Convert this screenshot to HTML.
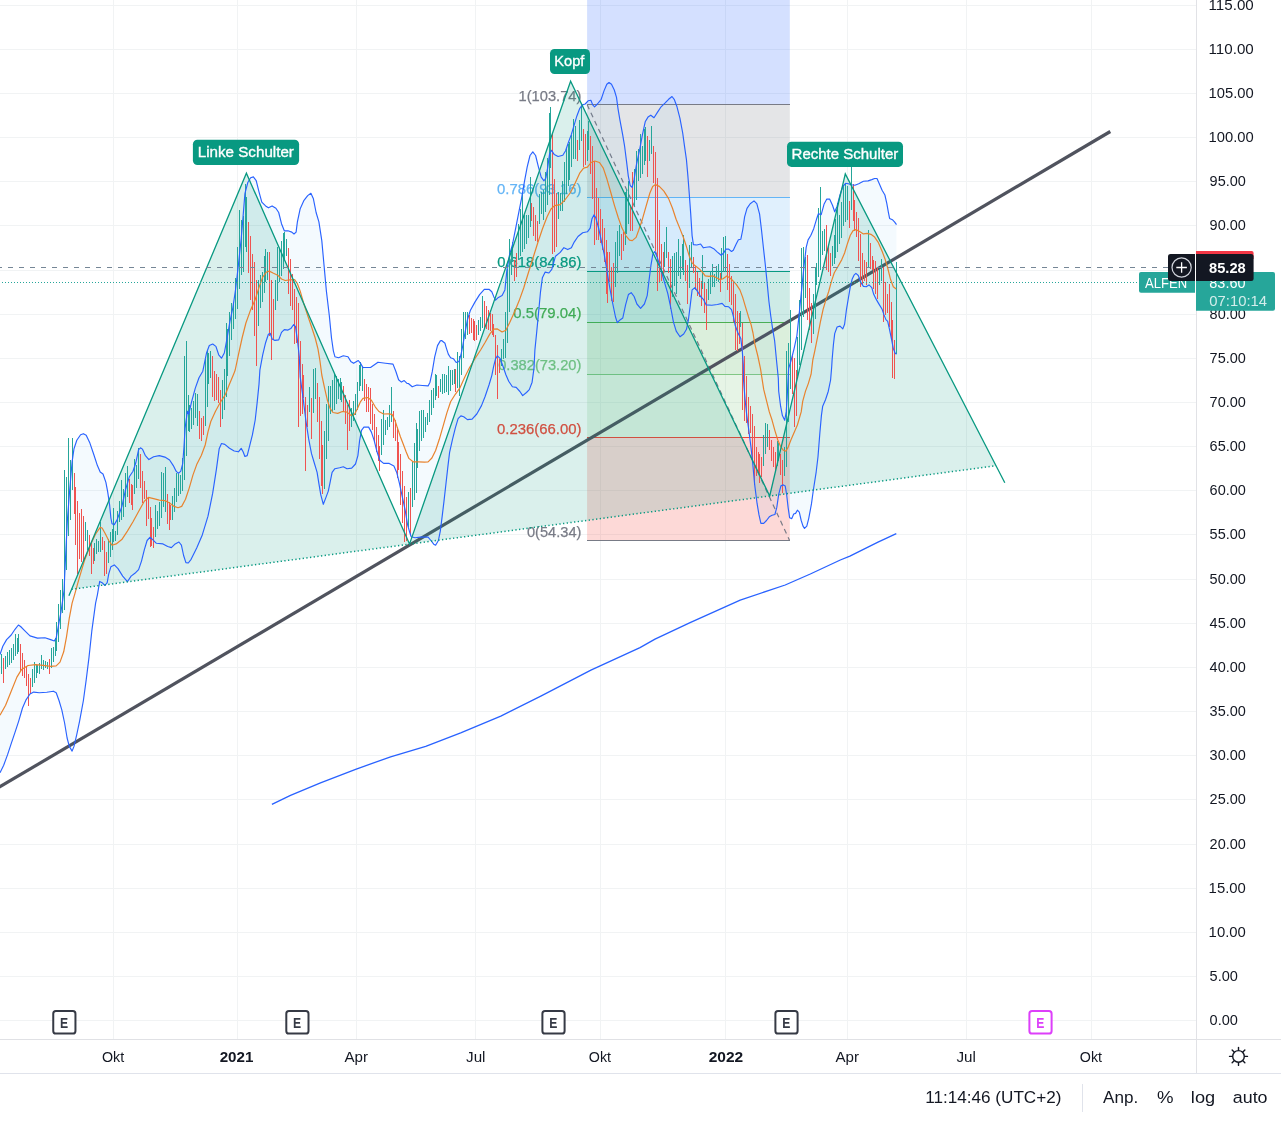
<!DOCTYPE html>
<html lang="de"><head><meta charset="utf-8"><title>ALFEN Chart</title>
<style>html,body{margin:0;padding:0;background:#fff;overflow:hidden}body{width:1281px;height:1122px;position:relative;font-family:"Liberation Sans",sans-serif}</style></head>
<body>
<svg width="1281" height="1122" viewBox="0 0 1281 1122" style="position:absolute;left:0;top:0;font-family:'Liberation Sans',sans-serif">
<rect width="1281" height="1122" fill="#fff"/>
<defs><clipPath id="pane"><rect x="0" y="0" width="1196" height="1039"/></clipPath></defs>
<g shape-rendering="crispEdges" fill="#f1f3f4">
<rect x="0" y="1020" width="1196" height="1"/>
<rect x="0" y="976" width="1196" height="1"/>
<rect x="0" y="932" width="1196" height="1"/>
<rect x="0" y="888" width="1196" height="1"/>
<rect x="0" y="844" width="1196" height="1"/>
<rect x="0" y="799" width="1196" height="1"/>
<rect x="0" y="755" width="1196" height="1"/>
<rect x="0" y="711" width="1196" height="1"/>
<rect x="0" y="667" width="1196" height="1"/>
<rect x="0" y="623" width="1196" height="1"/>
<rect x="0" y="579" width="1196" height="1"/>
<rect x="0" y="534" width="1196" height="1"/>
<rect x="0" y="490" width="1196" height="1"/>
<rect x="0" y="446" width="1196" height="1"/>
<rect x="0" y="402" width="1196" height="1"/>
<rect x="0" y="358" width="1196" height="1"/>
<rect x="0" y="314" width="1196" height="1"/>
<rect x="0" y="270" width="1196" height="1"/>
<rect x="0" y="225" width="1196" height="1"/>
<rect x="0" y="181" width="1196" height="1"/>
<rect x="0" y="137" width="1196" height="1"/>
<rect x="0" y="93" width="1196" height="1"/>
<rect x="0" y="49" width="1196" height="1"/>
<rect x="0" y="5" width="1196" height="1"/>
<rect x="113" y="0" width="1" height="1039"/>
<rect x="237" y="0" width="1" height="1039"/>
<rect x="356" y="0" width="1" height="1039"/>
<rect x="475" y="0" width="1" height="1039"/>
<rect x="600" y="0" width="1" height="1039"/>
<rect x="725" y="0" width="1" height="1039"/>
<rect x="847" y="0" width="1" height="1039"/>
<rect x="966" y="0" width="1" height="1039"/>
<rect x="1091" y="0" width="1" height="1039"/>
</g>
<g clip-path="url(#pane)">
<rect x="587.1" y="0" width="202.7" height="104.6" fill="#2962ff" fill-opacity="0.2"/>
<rect x="587.1" y="104.6" width="202.7" height="92.6" fill="#787b86" fill-opacity="0.2"/>
<rect x="587.1" y="197.2" width="202.7" height="74.2" fill="#64b5f6" fill-opacity="0.2"/>
<rect x="587.1" y="271.4" width="202.7" height="50.9" fill="#089981" fill-opacity="0.2"/>
<rect x="587.1" y="322.3" width="202.7" height="51.9" fill="#4caf50" fill-opacity="0.2"/>
<rect x="587.1" y="374.2" width="202.7" height="63.1" fill="#81c784" fill-opacity="0.2"/>
<rect x="587.1" y="437.3" width="202.7" height="103.1" fill="#f44336" fill-opacity="0.2"/>
<rect x="587.1" y="104" width="202.7" height="1" fill="#787b86" shape-rendering="crispEdges"/>
<rect x="587.1" y="197" width="202.7" height="1" fill="#64b5f6" shape-rendering="crispEdges"/>
<rect x="587.1" y="271" width="202.7" height="1" fill="#089981" shape-rendering="crispEdges"/>
<rect x="587.1" y="322" width="202.7" height="1" fill="#4caf50" shape-rendering="crispEdges"/>
<rect x="587.1" y="374" width="202.7" height="1" fill="#81c784" shape-rendering="crispEdges"/>
<rect x="587.1" y="437" width="202.7" height="1" fill="#f44336" shape-rendering="crispEdges"/>
<rect x="587.1" y="540" width="202.7" height="1" fill="#787b86" shape-rendering="crispEdges"/>
<line x1="587.1" y1="104.6" x2="789.6" y2="540.4" stroke="#787b86" stroke-width="1.2" stroke-dasharray="5 4"/>
<text x="518.52" y="100.6" font-size="15" fill="#787b86" textLength="62.87" lengthAdjust="spacingAndGlyphs" stroke="#787b86" stroke-width="0.25">1(103.74)</text>
<text x="497.00" y="193.5" font-size="15" fill="#64b5f6" textLength="84.40" lengthAdjust="spacingAndGlyphs" stroke="#64b5f6" stroke-width="0.25">0.786(93.16)</text>
<text x="497.20" y="267" font-size="15" fill="#089981" textLength="84.20" lengthAdjust="spacingAndGlyphs" stroke="#089981" stroke-width="0.25">0.618(84.86)</text>
<text x="513.30" y="318.2" font-size="15" fill="#4caf50" textLength="68.10" lengthAdjust="spacingAndGlyphs" stroke="#4caf50" stroke-width="0.25">0.5(79.04)</text>
<text x="498.20" y="370.2" font-size="15" fill="#81c784" textLength="83.20" lengthAdjust="spacingAndGlyphs" stroke="#81c784" stroke-width="0.25">0.382(73.20)</text>
<text x="497.00" y="433.5" font-size="15" fill="#f44336" textLength="84.40" lengthAdjust="spacingAndGlyphs" stroke="#f44336" stroke-width="0.25">0.236(66.00)</text>
<text x="527.00" y="536.6" font-size="15" fill="#787b86" textLength="54.40" lengthAdjust="spacingAndGlyphs" stroke="#787b86" stroke-width="0.25">0(54.34)</text>
<line x1="-2" y1="787.9" x2="1110.3" y2="131.5" stroke="#50535e" stroke-width="3.2"/>
<path d="M0.0,654.6 L2.8,646.2 L6.6,639.6 L11.2,635.0 L15.0,629.3 L18.4,625.0 L20.6,626.5 L24.4,630.3 L30.0,635.9 L37.5,638.1 L45.0,637.8 L50.6,639.6 L54.3,641.0 L56.2,637.8 L58.1,627.5 L60.9,612.5 L62.8,599.4 L64.1,590.0 L64.6,578.0 L65.9,549.9 L67.4,519.9 L69.7,489.9 L72.1,461.8 L74.0,448.7 L76.8,440.3 L80.6,434.7 L83.4,433.7 L86.2,435.2 L89.9,443.1 L93.7,454.3 L97.4,465.6 L100.2,472.1 L103.0,474.0 L105.9,482.4 L107.7,491.8 L109.6,504.9 L110.9,518.0 L112.0,523.7 L114.3,524.6 L117.1,519.9 L121.8,506.8 L125.5,489.9 L129.3,476.8 L133.0,471.2 L135.8,462.8 L138.6,449.6 L140.5,447.8 L142.4,449.1 L145.2,455.3 L148.9,459.6 L153.6,456.8 L159.3,455.6 L164.9,457.1 L169.6,460.0 L173.3,465.6 L176.1,471.2 L178.4,473.4 L180.8,471.2 L182.7,463.7 L184.0,446.8 L185.1,428.1 L187.4,411.2 L188.7,414.3 L191.5,402.2 L195.3,388.1 L199.0,377.8 L202.8,371.2 L206.5,353.0 L209.3,345.5 L212.7,344.0 L215.9,346.4 L218.7,354.8 L221.5,358.2 L224.3,353.0 L227.1,338.0 L230.0,321.1 L232.8,308.0 L235.6,289.3 L238.4,264.9 L241.2,238.7 L243.1,216.2 L244.9,193.7 L247.8,182.5 L250.6,177.8 L253.4,176.9 L256.2,180.6 L259.0,191.9 L261.8,202.2 L265.6,205.9 L268.4,207.8 L272.1,205.9 L275.9,208.3 L278.7,212.5 L281.5,223.7 L284.3,230.8 L288.0,230.8 L291.8,232.1 L294.0,234.0 L296.1,232.1 L297.4,221.8 L300.2,208.7 L304.0,200.3 L307.7,195.6 L310.9,193.3 L313.3,198.4 L316.1,212.5 L318.9,221.8 L321.8,240.6 L324.0,264.9 L326.4,291.1 L329.3,315.5 L331.5,338.0 L333.4,351.1 L334.9,356.7 L338.6,357.7 L343.3,355.8 L348.0,356.7 L350.8,361.4 L353.6,363.3 L358.3,360.5 L361.1,364.2 L363.0,367.6 L363.9,367.5 L370.5,367.5 L378.0,362.2 L385.5,363.2 L393.0,364.1 L395.8,371.2 L398.6,379.7 L401.4,382.1 L404.2,380.6 L407.0,383.4 L408.4,383.5 L412.2,386.8 L416.9,385.0 L422.5,385.5 L428.1,385.9 L430.0,382.2 L432.2,371.9 L434.7,356.9 L437.5,345.6 L440.3,340.9 L441.6,340.5 L445.0,343.3 L445.9,346.6 L448.3,354.1 L450.6,357.8 L453.4,358.7 L456.2,362.5 L459.0,361.5 L460.9,355.0 L462.8,345.6 L464.6,334.8 L467.4,319.9 L470.3,310.5 L474.9,302.1 L479.6,294.6 L484.3,289.3 L489.0,289.3 L491.8,291.8 L493.7,296.4 L495.6,300.2 L498.4,297.4 L502.1,295.5 L504.9,289.9 L506.8,271.1 L509.6,254.3 L512.4,244.9 L521.5,198.6 L524.4,181.8 L527.2,166.8 L530.0,155.5 L532.8,151.8 L535.6,155.5 L538.4,166.8 L541.2,177.1 L544.0,180.8 L545.9,178.0 L547.8,166.8 L549.6,153.7 L551.5,150.3 L554.3,154.6 L558.1,156.5 L562.8,155.2 L565.6,150.8 L568.4,142.4 L571.2,134.9 L574.0,125.6 L576.8,116.2 L579.6,108.7 L582.4,104.9 L585.2,104.0 L588.1,100.8 L590.9,100.3 L592.7,104.9 L594.6,106.8 L597.4,104.0 L601.2,99.3 L604.0,90.9 L606.8,84.3 L609.0,82.5 L611.5,84.3 L614.3,90.0 L616.5,97.4 L618.0,108.7 L619.9,119.9 L622.7,134.9 L624.6,146.2 L626.5,161.1 L628.3,176.1 L630.2,185.5 L632.1,187.4 L634.0,179.9 L636.4,164.9 L639.6,149.9 L642.4,134.9 L645.2,121.8 L648.0,117.1 L650.8,115.2 L654.0,117.7 L657.4,112.4 L661.1,106.8 L664.9,103.1 L668.6,99.3 L672.0,96.5 L674.2,99.3 L677.0,106.8 L679.9,118.1 L682.7,133.0 L684.5,146.2 L686.4,159.3 L687.9,176.1 L689.2,193.0 L690.7,213.6 L692.1,235.6 L693.4,244.6 L696.8,245.0 L700.6,244.0 L703.4,247.8 L706.2,247.2 L709.9,246.8 L713.7,248.7 L717.4,252.1 L721.2,255.3 L724.0,252.5 L725.9,249.1 L728.7,249.1 L731.5,251.5 L733.3,250.2 L736.2,244.0 L738.4,239.7 L740.8,239.3 L742.7,230.0 L744.6,216.9 L747.0,208.4 L750.2,203.7 L754.0,200.9 L756.8,203.7 L759.6,214.1 L761.5,230.0 L763.3,246.8 L765.2,263.7 L767.1,282.4 L768.9,301.2 L770.8,316.2 L772.7,329.3 L774.6,340.5 L776.4,359.3 L778.3,378.0 L778.7,391.2 L780.6,406.2 L782.4,415.6 L784.7,420.3 L786.2,411.9 L787.1,398.7 L788.6,368.6 L791.2,360.0 L794.1,348.6 L796.9,335.5 L798.7,318.6 L800.6,299.9 L802.5,281.1 L804.4,262.4 L806.2,247.4 L808.1,239.9 L810.9,235.2 L813.7,228.7 L816.5,219.3 L818.4,213.7 L821.2,214.6 L824.0,204.3 L826.8,199.1 L829.6,199.1 L832.5,205.3 L834.7,211.8 L837.1,206.2 L840.0,195.0 L842.8,186.5 L845.6,183.3 L848.4,183.7 L851.2,184.7 L854.9,185.2 L858.7,183.7 L863.4,181.3 L868.1,180.9 L871.8,179.6 L874.6,178.5 L877.0,178.5 L879.3,183.7 L882.1,190.3 L884.9,195.0 L886.8,203.4 L888.3,211.8 L889.6,218.4 L892.4,219.7 L894.7,222.1 L896.5,224.6 L896.5,354.2 L895.2,353.3 L893.3,348.6 L891.5,339.2 L889.6,329.9 L887.7,321.4 L885.9,319.6 L884.0,314.9 L882.1,309.3 L879.3,304.6 L876.5,299.9 L873.7,294.3 L871.8,287.7 L869.0,284.9 L866.2,286.8 L863.4,286.4 L860.6,282.1 L858.3,275.5 L855.9,273.3 L854.0,275.2 L852.1,279.3 L850.3,286.8 L848.4,298.0 L846.5,309.3 L844.6,324.2 L842.8,328.9 L840.0,326.1 L837.1,327.0 L834.7,333.6 L833.4,344.8 L832.1,360.0 L831.7,366.7 L830.6,380.0 L828.3,391.2 L825.5,399.7 L822.7,406.2 L821.4,415.6 L819.9,432.5 L818.0,456.8 L816.2,471.8 L813.3,490.5 L811.5,503.7 L808.7,518.6 L806.8,526.1 L804.5,528.4 L803.0,526.1 L801.2,520.5 L799.3,512.1 L797.4,510.2 L795.6,513.4 L793.7,514.0 L791.8,518.6 L789.6,517.7 L788.1,507.4 L786.6,494.3 L785.2,485.9 L783.4,484.9 L780.9,485.9 L778.7,494.3 L776.8,507.4 L774.9,514.5 L772.1,515.3 L769.3,516.8 L766.5,520.5 L763.7,523.3 L760.9,523.3 L759.0,514.9 L757.1,503.7 L754.7,484.9 L752.8,464.3 L751.0,447.4 L749.1,432.5 L746.8,415.6 L745.0,398.7 L743.5,380.0 L743.3,364.9 L742.2,349.9 L740.8,338.6 L738.0,333.0 L735.2,325.5 L733.3,316.2 L731.5,309.6 L728.7,306.8 L724.9,306.4 L722.1,303.4 L717.4,304.5 L711.8,305.3 L706.2,304.9 L703.4,299.3 L700.6,296.5 L697.8,291.8 L694.9,287.7 L692.1,289.9 L690.3,304.9 L688.4,319.9 L686.5,329.3 L683.7,334.0 L680.0,336.8 L676.2,331.1 L673.4,321.8 L670.6,306.8 L667.8,293.7 L664.0,280.6 L660.3,267.4 L657.5,258.1 L654.7,251.5 L652.8,254.3 L650.9,265.6 L649.0,280.6 L647.2,295.6 L644.4,304.0 L640.6,308.3 L636.9,304.0 L634.1,296.5 L631.2,292.7 L628.4,294.6 L625.6,304.9 L622.8,318.0 L620.0,319.9 L617.3,322.7 L615.5,317.0 L612.6,303.0 L609.8,288.0 L607.0,271.1 L604.2,254.3 L601.4,241.2 L598.6,228.1 L595.8,217.8 L593.9,214.9 L592.0,218.7 L590.2,228.1 L587.4,231.8 L582.7,232.7 L578.0,236.5 L574.2,242.1 L571.4,247.7 L567.7,249.6 L563.9,247.7 L560.2,252.4 L555.5,256.2 L551.8,269.3 L548.9,273.0 L545.2,272.1 L542.4,277.7 L540.5,291.8 L538.6,312.4 L536.8,331.1 L534.9,350.0 L534.0,368.1 L532.1,382.2 L529.3,389.6 L526.5,392.5 L522.7,395.6 L519.9,391.5 L516.2,387.4 L512.4,386.8 L508.7,381.2 L505.9,374.7 L503.0,366.2 L500.2,358.7 L497.4,355.9 L495.6,358.7 L493.7,366.2 L491.8,375.6 L489.0,385.0 L485.2,396.2 L481.5,405.6 L476.8,414.0 L472.1,419.1 L467.4,419.6 L463.7,416.8 L460.9,415.9 L458.1,418.7 L455.3,428.1 L452.5,439.3 L449.6,452.4 L447.8,467.4 L445.9,484.3 L444.0,501.1 L442.2,516.1 L440.3,531.1 L438.4,540.5 L435.6,545.2 L433.7,544.2 L430.9,540.5 L428.1,537.1 L420.6,537.1 L415.0,537.7 L411.2,536.7 L410.0,533.3 L407.6,524.9 L405.1,509.9 L402.3,496.8 L399.5,483.7 L396.7,472.4 L393.9,465.9 L389.2,463.4 L383.6,463.4 L379.8,460.2 L377.0,451.8 L374.2,440.6 L371.4,432.1 L368.6,427.1 L363.9,427.1 L361.5,430.3 L359.6,440.6 L357.9,455.6 L355.5,464.0 L351.7,468.1 L347.0,468.7 L343.3,466.8 L339.6,467.7 L334.9,468.7 L332.1,472.4 L330.2,481.8 L328.3,491.1 L325.5,498.6 L323.3,504.3 L320.8,494.9 L318.9,483.7 L317.1,472.4 L314.3,463.0 L311.5,453.7 L308.6,438.7 L305.8,420.0 L303.0,397.5 L300.2,376.9 L299.3,356.7 L297.4,339.9 L295.5,326.7 L293.7,324.5 L290.8,328.6 L288.0,330.1 L284.3,329.6 L281.5,332.4 L278.7,339.9 L274.9,340.4 L272.1,338.9 L270.2,333.3 L268.4,334.2 L265.6,342.7 L262.7,354.8 L259.9,370.0 L259.0,384.4 L257.1,403.1 L255.2,420.0 L252.4,434.9 L249.6,446.2 L247.2,455.6 L244.9,456.5 L243.1,451.8 L241.2,448.4 L238.4,451.8 L234.2,451.0 L229.5,448.3 L224.8,444.4 L221.5,443.5 L219.2,448.7 L216.4,469.3 L212.6,493.7 L208.0,516.2 L202.3,534.9 L196.7,548.0 L191.1,559.3 L188.3,563.0 L185.9,562.6 L183.6,555.5 L181.4,545.2 L178.9,542.0 L175.2,543.9 L171.4,547.6 L167.7,546.5 L163.0,543.9 L156.4,543.3 L152.7,539.6 L149.9,537.3 L147.1,540.5 L144.3,549.9 L141.5,561.1 L138.6,569.6 L134.9,573.3 L131.1,576.1 L127.4,581.7 L122.7,576.1 L118.0,568.6 L114.3,564.9 L110.9,566.7 L108.7,574.2 L107.2,582.7 L104.9,585.5 L102.1,582.7 L99.7,581.4 L97.4,594.8 L95.6,603.1 L91.8,631.2 L89.0,657.4 L86.2,679.9 L83.4,700.5 L79.6,721.1 L76.8,734.3 L74.0,746.4 L72.1,751.1 L69.3,746.4 L67.1,738.0 L64.6,723.0 L61.8,709.9 L59.0,700.5 L56.2,692.7 L53.4,691.2 L46.8,692.3 L39.3,692.7 L33.7,692.1 L30.0,694.0 L26.2,699.6 L22.5,708.0 L18.7,721.1 L15.0,732.4 L11.2,743.6 L7.5,754.9 L3.7,765.2 L0.0,772.7Z" fill="#2196f3" fill-opacity="0.05"/>
<path d="M71.6,589.3 L246.4,173.2 L409.5,544.1Z" fill="#089981" fill-opacity="0.15"/>
<path d="M409.5,544.1 L570.6,81.3 L769.7,496.0Z" fill="#089981" fill-opacity="0.15"/>
<path d="M769.7,496.0 L845.3,173.9 L995.9,465.7Z" fill="#089981" fill-opacity="0.15"/>
<g shape-rendering="crispEdges">
<path d="M-1,642h1v33h-1zM1,654h1v20h-1zM5,656h1v13h-1zM7,652h1v15h-1zM9,650h1v15h-1zM11,648h1v15h-1zM13,644h1v16h-1zM15,634h1v22h-1zM17,638h1v16h-1zM18,634h1v18h-1zM32,669h1v18h-1zM34,662h1v21h-1zM36,664h1v14h-1zM37,665h1v8h-1zM39,663h1v11h-1zM41,655h1v14h-1zM43,660h1v10h-1zM45,661h1v7h-1zM47,662h1v7h-1zM51,648h1v20h-1zM53,647h1v15h-1zM55,638h1v18h-1zM56,622h1v29h-1zM58,604h1v38h-1zM60,590h1v39h-1zM62,579h1v34h-1zM64,470h1v140h-1zM66,477h1v93h-1zM68,438h1v98h-1zM70,460h1v60h-1zM72,438h1v52h-1zM85,522h1v19h-1zM87,530h1v20h-1zM94,543h1v18h-1zM96,539h1v15h-1zM98,541h1v11h-1zM100,522h1v30h-1zM108,539h1v24h-1zM110,532h1v25h-1zM112,529h1v21h-1zM113,508h1v34h-1zM115,531h1v10h-1zM117,511h1v24h-1zM119,501h1v21h-1zM121,480h1v40h-1zM123,489h1v28h-1zM125,473h1v34h-1zM127,466h1v31h-1zM134,459h1v35h-1zM136,465h1v23h-1zM138,448h1v31h-1zM155,505h1v32h-1zM157,511h1v18h-1zM159,502h1v24h-1zM161,472h1v46h-1zM163,473h1v34h-1zM165,467h1v45h-1zM172,496h1v24h-1zM174,488h1v24h-1zM176,473h1v29h-1zM178,474h1v22h-1zM180,475h1v19h-1zM182,458h1v33h-1zM184,356h1v124h-1zM186,341h1v115h-1zM188,395h1v36h-1zM189,405h1v27h-1zM191,408h1v21h-1zM193,401h1v24h-1zM195,393h1v25h-1zM197,394h1v32h-1zM205,359h1v67h-1zM207,350h1v57h-1zM208,353h1v31h-1zM210,351h1v27h-1zM222,380h1v39h-1zM224,369h1v41h-1zM226,323h1v74h-1zM227,329h1v47h-1zM229,312h1v44h-1zM231,303h1v37h-1zM233,304h1v25h-1zM235,278h1v41h-1zM237,247h1v62h-1zM239,210h1v79h-1zM241,220h1v55h-1zM243,216h1v56h-1zM245,184h1v63h-1zM246,197h1v55h-1zM258,280h1v46h-1zM260,275h1v33h-1zM262,272h1v30h-1zM264,256h1v37h-1zM265,249h1v33h-1zM267,252h1v28h-1zM275,280h1v30h-1zM277,247h1v54h-1zM279,248h1v34h-1zM281,241h1v35h-1zM283,233h1v36h-1zM284,232h1v27h-1zM286,239h1v17h-1zM309,387h1v25h-1zM313,369h1v44h-1zM315,368h1v31h-1zM324,431h1v58h-1zM326,404h1v55h-1zM328,386h1v55h-1zM330,386h1v28h-1zM332,380h1v32h-1zM334,374h1v36h-1zM336,376h1v28h-1zM338,379h1v20h-1zM340,378h1v22h-1zM341,382h1v20h-1zM351,408h1v19h-1zM353,401h1v20h-1zM355,394h1v21h-1zM357,382h1v28h-1zM359,365h1v26h-1zM360,362h1v24h-1zM362,367h1v24h-1zM381,419h1v36h-1zM383,410h1v35h-1zM385,420h1v15h-1zM387,417h1v13h-1zM389,405h1v22h-1zM391,387h1v35h-1zM408,492h1v35h-1zM412,462h1v45h-1zM414,443h1v57h-1zM416,423h1v70h-1zM417,429h1v39h-1zM419,411h1v40h-1zM421,410h1v31h-1zM423,410h1v28h-1zM425,417h1v15h-1zM427,413h1v12h-1zM429,400h1v22h-1zM431,390h1v25h-1zM433,388h1v20h-1zM435,374h1v26h-1zM436,375h1v21h-1zM440,379h1v13h-1zM442,374h1v20h-1zM444,374h1v19h-1zM446,375h1v17h-1zM448,366h1v29h-1zM450,370h1v21h-1zM452,370h1v15h-1zM454,369h1v15h-1zM457,352h1v36h-1zM459,356h1v40h-1zM461,329h1v46h-1zM463,312h1v46h-1zM465,312h1v27h-1zM467,312h1v23h-1zM478,320h1v15h-1zM480,317h1v14h-1zM482,296h1v32h-1zM501,349h1v17h-1zM503,339h1v20h-1zM505,312h1v46h-1zM507,269h1v74h-1zM509,239h1v73h-1zM511,247h1v28h-1zM512,242h1v20h-1zM518,224h1v36h-1zM520,209h1v47h-1zM522,194h1v58h-1zM524,215h1v34h-1zM526,215h1v29h-1zM528,215h1v23h-1zM530,177h1v50h-1zM539,194h1v30h-1zM541,192h1v22h-1zM543,190h1v30h-1zM545,172h1v40h-1zM547,158h1v47h-1zM549,113h1v82h-1zM550,107h1v61h-1zM558,192h1v27h-1zM560,193h1v18h-1zM562,181h1v30h-1zM564,162h1v40h-1zM566,148h1v46h-1zM568,144h1v42h-1zM569,142h1v38h-1zM571,135h1v32h-1zM573,119h1v40h-1zM575,126h1v33h-1zM579,120h1v30h-1zM581,106h1v35h-1zM587,131h1v30h-1zM588,121h1v29h-1zM615,242h1v45h-1zM617,231h1v42h-1zM619,225h1v31h-1zM625,192h1v53h-1zM626,189h1v45h-1zM628,181h1v43h-1zM634,169h1v37h-1zM636,151h1v49h-1zM638,149h1v32h-1zM640,134h1v44h-1zM642,146h1v28h-1zM644,129h1v36h-1zM645,127h1v34h-1zM649,140h1v21h-1zM651,126h1v28h-1zM664,242h1v25h-1zM666,227h1v31h-1zM672,256h1v41h-1zM674,253h1v33h-1zM676,252h1v42h-1zM678,239h1v37h-1zM680,256h1v23h-1zM682,244h1v26h-1zM683,235h1v40h-1zM689,245h1v43h-1zM691,242h1v25h-1zM702,255h1v34h-1zM708,279h1v21h-1zM710,271h1v23h-1zM712,264h1v23h-1zM714,274h1v13h-1zM716,266h1v15h-1zM718,264h1v18h-1zM721,248h1v31h-1zM723,237h1v35h-1zM725,236h1v36h-1zM740,311h1v16h-1zM763,435h1v31h-1zM765,423h1v31h-1zM767,424h1v23h-1zM777,441h1v25h-1zM778,443h1v18h-1zM784,447h1v29h-1zM786,351h1v116h-1zM788,343h1v79h-1zM790,310h1v79h-1zM797,337h1v39h-1zM799,300h1v65h-1zM801,248h1v102h-1zM803,247h1v70h-1zM805,257h1v41h-1zM813,294h1v40h-1zM815,268h1v51h-1zM816,263h1v22h-1zM818,208h1v69h-1zM820,187h1v83h-1zM822,231h1v24h-1zM824,229h1v22h-1zM832,246h1v20h-1zM834,235h1v29h-1zM835,219h1v39h-1zM837,203h1v49h-1zM839,215h1v29h-1zM841,202h1v36h-1zM843,185h1v41h-1zM845,184h1v38h-1zM847,186h1v34h-1zM851,164h1v46h-1zM868,230h1v37h-1zM879,269h1v16h-1zM881,259h1v22h-1zM896,262h1v92h-1z" fill="#26a69a"/>
<path d="M3,658h1v25h-1zM20,644h1v27h-1zM22,653h1v23h-1zM24,660h1v18h-1zM26,667h1v19h-1zM28,674h1v32h-1zM30,678h1v16h-1zM49,659h1v15h-1zM74,473h1v41h-1zM75,487h1v58h-1zM77,501h1v73h-1zM79,513h1v46h-1zM81,509h1v53h-1zM83,516h1v45h-1zM89,535h1v21h-1zM91,542h1v32h-1zM93,548h1v16h-1zM102,537h1v13h-1zM104,541h1v35h-1zM106,552h1v22h-1zM129,479h1v24h-1zM131,484h1v21h-1zM132,485h1v25h-1zM140,454h1v34h-1zM142,471h1v32h-1zM144,481h1v18h-1zM146,490h1v36h-1zM148,498h1v21h-1zM150,507h1v40h-1zM151,518h1v28h-1zM153,527h1v21h-1zM167,494h1v30h-1zM169,502h1v28h-1zM170,505h1v15h-1zM199,411h1v28h-1zM201,418h1v23h-1zM203,416h1v19h-1zM212,356h1v41h-1zM214,371h1v30h-1zM216,374h1v26h-1zM218,377h1v26h-1zM220,390h1v37h-1zM248,222h1v51h-1zM250,236h1v64h-1zM252,254h1v56h-1zM254,262h1v74h-1zM256,280h1v86h-1zM269,252h1v84h-1zM271,280h1v80h-1zM273,299h1v41h-1zM288,248h1v46h-1zM290,259h1v47h-1zM292,274h1v36h-1zM294,289h1v55h-1zM296,297h1v46h-1zM298,303h1v124h-1zM300,341h1v75h-1zM302,364h1v50h-1zM303,375h1v23h-1zM305,397h1v74h-1zM307,405h1v22h-1zM311,398h1v41h-1zM317,383h1v39h-1zM319,397h1v62h-1zM321,421h1v65h-1zM322,445h1v49h-1zM343,386h1v26h-1zM345,395h1v29h-1zM347,405h1v45h-1zM349,400h1v31h-1zM364,379h1v22h-1zM366,384h1v28h-1zM368,387h1v25h-1zM370,388h1v36h-1zM372,404h1v26h-1zM374,414h1v28h-1zM376,427h1v25h-1zM378,435h1v26h-1zM379,446h1v25h-1zM393,411h1v27h-1zM395,420h1v21h-1zM397,427h1v51h-1zM398,442h1v28h-1zM400,454h1v51h-1zM402,471h1v52h-1zM404,486h1v56h-1zM406,497h1v44h-1zM410,488h1v47h-1zM438,386h1v12h-1zM455,369h1v23h-1zM469,315h1v19h-1zM471,318h1v15h-1zM473,319h1v21h-1zM474,321h1v20h-1zM476,325h1v15h-1zM484,301h1v28h-1zM486,306h1v23h-1zM488,310h1v20h-1zM490,313h1v18h-1zM492,314h1v21h-1zM493,324h1v13h-1zM495,335h1v40h-1zM497,345h1v54h-1zM499,359h1v14h-1zM514,260h1v21h-1zM516,253h1v24h-1zM531,203h1v18h-1zM533,207h1v29h-1zM535,215h1v26h-1zM537,221h1v21h-1zM552,133h1v121h-1zM554,179h1v73h-1zM556,193h1v54h-1zM577,140h1v21h-1zM583,129h1v38h-1zM585,134h1v31h-1zM590,136h1v38h-1zM592,146h1v53h-1zM594,161h1v84h-1zM596,188h1v52h-1zM598,198h1v42h-1zM600,209h1v34h-1zM602,219h1v31h-1zM604,228h1v34h-1zM606,240h1v54h-1zM607,252h1v51h-1zM609,252h1v30h-1zM611,267h1v34h-1zM613,263h1v39h-1zM621,234h1v26h-1zM623,232h1v19h-1zM630,207h1v24h-1zM632,172h1v59h-1zM647,136h1v41h-1zM653,146h1v37h-1zM655,152h1v99h-1zM657,178h1v113h-1zM659,220h1v63h-1zM661,244h1v37h-1zM663,252h1v23h-1zM668,252h1v21h-1zM670,259h1v50h-1zM685,260h1v21h-1zM687,265h1v39h-1zM693,257h1v16h-1zM695,266h1v24h-1zM697,272h1v24h-1zM699,278h1v19h-1zM701,281h1v25h-1zM704,283h1v30h-1zM706,289h1v41h-1zM720,273h1v19h-1zM727,254h1v36h-1zM729,264h1v38h-1zM731,276h1v29h-1zM733,282h1v40h-1zM735,294h1v56h-1zM737,311h1v40h-1zM739,313h1v31h-1zM742,323h1v87h-1zM744,356h1v65h-1zM746,376h1v47h-1zM748,397h1v37h-1zM750,406h1v27h-1zM752,414h1v45h-1zM754,426h1v59h-1zM756,447h1v29h-1zM758,452h1v22h-1zM759,454h1v29h-1zM761,457h1v20h-1zM769,430h1v20h-1zM771,440h1v21h-1zM773,447h1v20h-1zM775,452h1v19h-1zM780,454h1v21h-1zM782,460h1v33h-1zM792,356h1v38h-1zM794,358h1v69h-1zM796,370h1v46h-1zM807,255h1v65h-1zM809,288h1v42h-1zM811,303h1v40h-1zM826,225h1v45h-1zM828,246h1v26h-1zM830,253h1v23h-1zM849,201h1v27h-1zM853,184h1v37h-1zM854,200h1v31h-1zM856,212h1v25h-1zM858,218h1v43h-1zM860,234h1v53h-1zM862,253h1v32h-1zM864,260h1v21h-1zM866,262h1v23h-1zM870,243h1v26h-1zM872,256h1v14h-1zM873,260h1v29h-1zM875,261h1v33h-1zM877,267h1v32h-1zM883,267h1v55h-1zM885,282h1v33h-1zM887,294h1v19h-1zM889,284h1v43h-1zM891,302h1v37h-1zM892,320h1v58h-1zM894,340h1v39h-1z" fill="#ef5350"/>
</g>
<path d="M0.0,654.6 L2.8,646.2 L6.6,639.6 L11.2,635.0 L15.0,629.3 L18.4,625.0 L20.6,626.5 L24.4,630.3 L30.0,635.9 L37.5,638.1 L45.0,637.8 L50.6,639.6 L54.3,641.0 L56.2,637.8 L58.1,627.5 L60.9,612.5 L62.8,599.4 L64.1,590.0 L64.6,578.0 L65.9,549.9 L67.4,519.9 L69.7,489.9 L72.1,461.8 L74.0,448.7 L76.8,440.3 L80.6,434.7 L83.4,433.7 L86.2,435.2 L89.9,443.1 L93.7,454.3 L97.4,465.6 L100.2,472.1 L103.0,474.0 L105.9,482.4 L107.7,491.8 L109.6,504.9 L110.9,518.0 L112.0,523.7 L114.3,524.6 L117.1,519.9 L121.8,506.8 L125.5,489.9 L129.3,476.8 L133.0,471.2 L135.8,462.8 L138.6,449.6 L140.5,447.8 L142.4,449.1 L145.2,455.3 L148.9,459.6 L153.6,456.8 L159.3,455.6 L164.9,457.1 L169.6,460.0 L173.3,465.6 L176.1,471.2 L178.4,473.4 L180.8,471.2 L182.7,463.7 L184.0,446.8 L185.1,428.1 L187.4,411.2 L188.7,414.3 L191.5,402.2 L195.3,388.1 L199.0,377.8 L202.8,371.2 L206.5,353.0 L209.3,345.5 L212.7,344.0 L215.9,346.4 L218.7,354.8 L221.5,358.2 L224.3,353.0 L227.1,338.0 L230.0,321.1 L232.8,308.0 L235.6,289.3 L238.4,264.9 L241.2,238.7 L243.1,216.2 L244.9,193.7 L247.8,182.5 L250.6,177.8 L253.4,176.9 L256.2,180.6 L259.0,191.9 L261.8,202.2 L265.6,205.9 L268.4,207.8 L272.1,205.9 L275.9,208.3 L278.7,212.5 L281.5,223.7 L284.3,230.8 L288.0,230.8 L291.8,232.1 L294.0,234.0 L296.1,232.1 L297.4,221.8 L300.2,208.7 L304.0,200.3 L307.7,195.6 L310.9,193.3 L313.3,198.4 L316.1,212.5 L318.9,221.8 L321.8,240.6 L324.0,264.9 L326.4,291.1 L329.3,315.5 L331.5,338.0 L333.4,351.1 L334.9,356.7 L338.6,357.7 L343.3,355.8 L348.0,356.7 L350.8,361.4 L353.6,363.3 L358.3,360.5 L361.1,364.2 L363.0,367.6 L363.9,367.5 L370.5,367.5 L378.0,362.2 L385.5,363.2 L393.0,364.1 L395.8,371.2 L398.6,379.7 L401.4,382.1 L404.2,380.6 L407.0,383.4 L408.4,383.5 L412.2,386.8 L416.9,385.0 L422.5,385.5 L428.1,385.9 L430.0,382.2 L432.2,371.9 L434.7,356.9 L437.5,345.6 L440.3,340.9 L441.6,340.5 L445.0,343.3 L445.9,346.6 L448.3,354.1 L450.6,357.8 L453.4,358.7 L456.2,362.5 L459.0,361.5 L460.9,355.0 L462.8,345.6 L464.6,334.8 L467.4,319.9 L470.3,310.5 L474.9,302.1 L479.6,294.6 L484.3,289.3 L489.0,289.3 L491.8,291.8 L493.7,296.4 L495.6,300.2 L498.4,297.4 L502.1,295.5 L504.9,289.9 L506.8,271.1 L509.6,254.3 L512.4,244.9 L521.5,198.6 L524.4,181.8 L527.2,166.8 L530.0,155.5 L532.8,151.8 L535.6,155.5 L538.4,166.8 L541.2,177.1 L544.0,180.8 L545.9,178.0 L547.8,166.8 L549.6,153.7 L551.5,150.3 L554.3,154.6 L558.1,156.5 L562.8,155.2 L565.6,150.8 L568.4,142.4 L571.2,134.9 L574.0,125.6 L576.8,116.2 L579.6,108.7 L582.4,104.9 L585.2,104.0 L588.1,100.8 L590.9,100.3 L592.7,104.9 L594.6,106.8 L597.4,104.0 L601.2,99.3 L604.0,90.9 L606.8,84.3 L609.0,82.5 L611.5,84.3 L614.3,90.0 L616.5,97.4 L618.0,108.7 L619.9,119.9 L622.7,134.9 L624.6,146.2 L626.5,161.1 L628.3,176.1 L630.2,185.5 L632.1,187.4 L634.0,179.9 L636.4,164.9 L639.6,149.9 L642.4,134.9 L645.2,121.8 L648.0,117.1 L650.8,115.2 L654.0,117.7 L657.4,112.4 L661.1,106.8 L664.9,103.1 L668.6,99.3 L672.0,96.5 L674.2,99.3 L677.0,106.8 L679.9,118.1 L682.7,133.0 L684.5,146.2 L686.4,159.3 L687.9,176.1 L689.2,193.0 L690.7,213.6 L692.1,235.6 L693.4,244.6 L696.8,245.0 L700.6,244.0 L703.4,247.8 L706.2,247.2 L709.9,246.8 L713.7,248.7 L717.4,252.1 L721.2,255.3 L724.0,252.5 L725.9,249.1 L728.7,249.1 L731.5,251.5 L733.3,250.2 L736.2,244.0 L738.4,239.7 L740.8,239.3 L742.7,230.0 L744.6,216.9 L747.0,208.4 L750.2,203.7 L754.0,200.9 L756.8,203.7 L759.6,214.1 L761.5,230.0 L763.3,246.8 L765.2,263.7 L767.1,282.4 L768.9,301.2 L770.8,316.2 L772.7,329.3 L774.6,340.5 L776.4,359.3 L778.3,378.0 L778.7,391.2 L780.6,406.2 L782.4,415.6 L784.7,420.3 L786.2,411.9 L787.1,398.7 L788.6,368.6 L791.2,360.0 L794.1,348.6 L796.9,335.5 L798.7,318.6 L800.6,299.9 L802.5,281.1 L804.4,262.4 L806.2,247.4 L808.1,239.9 L810.9,235.2 L813.7,228.7 L816.5,219.3 L818.4,213.7 L821.2,214.6 L824.0,204.3 L826.8,199.1 L829.6,199.1 L832.5,205.3 L834.7,211.8 L837.1,206.2 L840.0,195.0 L842.8,186.5 L845.6,183.3 L848.4,183.7 L851.2,184.7 L854.9,185.2 L858.7,183.7 L863.4,181.3 L868.1,180.9 L871.8,179.6 L874.6,178.5 L877.0,178.5 L879.3,183.7 L882.1,190.3 L884.9,195.0 L886.8,203.4 L888.3,211.8 L889.6,218.4 L892.4,219.7 L894.7,222.1 L896.5,224.6" fill="none" stroke="#2962ff" stroke-width="1.15" stroke-linejoin="round"/>
<path d="M0.0,772.7 L3.7,765.2 L7.5,754.9 L11.2,743.6 L15.0,732.4 L18.7,721.1 L22.5,708.0 L26.2,699.6 L30.0,694.0 L33.7,692.1 L39.3,692.7 L46.8,692.3 L53.4,691.2 L56.2,692.7 L59.0,700.5 L61.8,709.9 L64.6,723.0 L67.1,738.0 L69.3,746.4 L72.1,751.1 L74.0,746.4 L76.8,734.3 L79.6,721.1 L83.4,700.5 L86.2,679.9 L89.0,657.4 L91.8,631.2 L95.6,603.1 L97.4,594.8 L99.7,581.4 L102.1,582.7 L104.9,585.5 L107.2,582.7 L108.7,574.2 L110.9,566.7 L114.3,564.9 L118.0,568.6 L122.7,576.1 L127.4,581.7 L131.1,576.1 L134.9,573.3 L138.6,569.6 L141.5,561.1 L144.3,549.9 L147.1,540.5 L149.9,537.3 L152.7,539.6 L156.4,543.3 L163.0,543.9 L167.7,546.5 L171.4,547.6 L175.2,543.9 L178.9,542.0 L181.4,545.2 L183.6,555.5 L185.9,562.6 L188.3,563.0 L191.1,559.3 L196.7,548.0 L202.3,534.9 L208.0,516.2 L212.6,493.7 L216.4,469.3 L219.2,448.7 L221.5,443.5 L224.8,444.4 L229.5,448.3 L234.2,451.0 L238.4,451.8 L241.2,448.4 L243.1,451.8 L244.9,456.5 L247.2,455.6 L249.6,446.2 L252.4,434.9 L255.2,420.0 L257.1,403.1 L259.0,384.4 L259.9,370.0 L262.7,354.8 L265.6,342.7 L268.4,334.2 L270.2,333.3 L272.1,338.9 L274.9,340.4 L278.7,339.9 L281.5,332.4 L284.3,329.6 L288.0,330.1 L290.8,328.6 L293.7,324.5 L295.5,326.7 L297.4,339.9 L299.3,356.7 L300.2,376.9 L303.0,397.5 L305.8,420.0 L308.6,438.7 L311.5,453.7 L314.3,463.0 L317.1,472.4 L318.9,483.7 L320.8,494.9 L323.3,504.3 L325.5,498.6 L328.3,491.1 L330.2,481.8 L332.1,472.4 L334.9,468.7 L339.6,467.7 L343.3,466.8 L347.0,468.7 L351.7,468.1 L355.5,464.0 L357.9,455.6 L359.6,440.6 L361.5,430.3 L363.9,427.1 L368.6,427.1 L371.4,432.1 L374.2,440.6 L377.0,451.8 L379.8,460.2 L383.6,463.4 L389.2,463.4 L393.9,465.9 L396.7,472.4 L399.5,483.7 L402.3,496.8 L405.1,509.9 L407.6,524.9 L410.0,533.3 L411.2,536.7 L415.0,537.7 L420.6,537.1 L428.1,537.1 L430.9,540.5 L433.7,544.2 L435.6,545.2 L438.4,540.5 L440.3,531.1 L442.2,516.1 L444.0,501.1 L445.9,484.3 L447.8,467.4 L449.6,452.4 L452.5,439.3 L455.3,428.1 L458.1,418.7 L460.9,415.9 L463.7,416.8 L467.4,419.6 L472.1,419.1 L476.8,414.0 L481.5,405.6 L485.2,396.2 L489.0,385.0 L491.8,375.6 L493.7,366.2 L495.6,358.7 L497.4,355.9 L500.2,358.7 L503.0,366.2 L505.9,374.7 L508.7,381.2 L512.4,386.8 L516.2,387.4 L519.9,391.5 L522.7,395.6 L526.5,392.5 L529.3,389.6 L532.1,382.2 L534.0,368.1 L534.9,350.0 L536.8,331.1 L538.6,312.4 L540.5,291.8 L542.4,277.7 L545.2,272.1 L548.9,273.0 L551.8,269.3 L555.5,256.2 L560.2,252.4 L563.9,247.7 L567.7,249.6 L571.4,247.7 L574.2,242.1 L578.0,236.5 L582.7,232.7 L587.4,231.8 L590.2,228.1 L592.0,218.7 L593.9,214.9 L595.8,217.8 L598.6,228.1 L601.4,241.2 L604.2,254.3 L607.0,271.1 L609.8,288.0 L612.6,303.0 L615.5,317.0 L617.3,322.7 L620.0,319.9 L622.8,318.0 L625.6,304.9 L628.4,294.6 L631.2,292.7 L634.1,296.5 L636.9,304.0 L640.6,308.3 L644.4,304.0 L647.2,295.6 L649.0,280.6 L650.9,265.6 L652.8,254.3 L654.7,251.5 L657.5,258.1 L660.3,267.4 L664.0,280.6 L667.8,293.7 L670.6,306.8 L673.4,321.8 L676.2,331.1 L680.0,336.8 L683.7,334.0 L686.5,329.3 L688.4,319.9 L690.3,304.9 L692.1,289.9 L694.9,287.7 L697.8,291.8 L700.6,296.5 L703.4,299.3 L706.2,304.9 L711.8,305.3 L717.4,304.5 L722.1,303.4 L724.9,306.4 L728.7,306.8 L731.5,309.6 L733.3,316.2 L735.2,325.5 L738.0,333.0 L740.8,338.6 L742.2,349.9 L743.3,364.9 L743.5,380.0 L745.0,398.7 L746.8,415.6 L749.1,432.5 L751.0,447.4 L752.8,464.3 L754.7,484.9 L757.1,503.7 L759.0,514.9 L760.9,523.3 L763.7,523.3 L766.5,520.5 L769.3,516.8 L772.1,515.3 L774.9,514.5 L776.8,507.4 L778.7,494.3 L780.9,485.9 L783.4,484.9 L785.2,485.9 L786.6,494.3 L788.1,507.4 L789.6,517.7 L791.8,518.6 L793.7,514.0 L795.6,513.4 L797.4,510.2 L799.3,512.1 L801.2,520.5 L803.0,526.1 L804.5,528.4 L806.8,526.1 L808.7,518.6 L811.5,503.7 L813.3,490.5 L816.2,471.8 L818.0,456.8 L819.9,432.5 L821.4,415.6 L822.7,406.2 L825.5,399.7 L828.3,391.2 L830.6,380.0 L831.7,366.7 L832.1,360.0 L833.4,344.8 L834.7,333.6 L837.1,327.0 L840.0,326.1 L842.8,328.9 L844.6,324.2 L846.5,309.3 L848.4,298.0 L850.3,286.8 L852.1,279.3 L854.0,275.2 L855.9,273.3 L858.3,275.5 L860.6,282.1 L863.4,286.4 L866.2,286.8 L869.0,284.9 L871.8,287.7 L873.7,294.3 L876.5,299.9 L879.3,304.6 L882.1,309.3 L884.0,314.9 L885.9,319.6 L887.7,321.4 L889.6,329.9 L891.5,339.2 L893.3,348.6 L895.2,353.3 L896.5,354.2" fill="none" stroke="#2962ff" stroke-width="1.15" stroke-linejoin="round"/>
<path d="M0.0,715.2 L5.6,705.2 L11.2,691.2 L16.9,677.1 L21.5,669.6 L28.1,665.5 L35.6,664.6 L43.1,665.3 L50.6,666.3 L56.2,665.9 L60.0,662.1 L63.7,651.8 L66.5,636.8 L69.3,618.1 L72.1,603.1 L74.9,593.7 L78.7,579.9 L84.3,561.1 L89.9,546.1 L95.6,534.0 L100.2,527.4 L102.1,528.0 L104.9,533.0 L108.7,540.5 L112.0,545.2 L116.2,543.9 L121.8,539.6 L127.4,531.1 L133.0,521.8 L138.6,511.5 L144.3,501.2 L148.4,497.4 L153.6,498.7 L159.3,500.2 L164.9,500.6 L169.6,503.0 L174.2,506.4 L178.0,507.7 L181.7,506.4 L185.5,499.3 L189.2,488.1 L193.0,474.9 L196.7,464.6 L201.4,455.3 L205.2,445.0 L208.0,431.9 L210.8,421.5 L215.5,411.2 L220.1,402.8 L225.3,394.7 L229.0,385.3 L233.7,374.1 L235.2,370.0 L238.4,354.8 L242.1,338.0 L245.9,323.0 L250.6,309.9 L255.2,299.6 L259.0,287.4 L262.7,277.1 L266.5,272.0 L269.3,271.1 L273.0,273.0 L277.7,275.2 L281.5,279.0 L285.2,280.5 L289.9,279.9 L294.6,279.5 L297.4,283.7 L300.2,291.1 L304.0,304.3 L307.7,315.5 L311.5,326.7 L315.2,338.0 L318.0,349.2 L319.9,360.5 L321.8,375.0 L324.6,388.1 L327.4,400.3 L330.2,408.7 L333.0,412.5 L337.7,413.4 L342.4,411.5 L347.0,412.1 L350.8,415.3 L354.5,414.3 L357.4,408.7 L360.2,402.2 L363.0,398.4 L367.7,397.5 L371.4,400.3 L375.2,406.8 L378.9,411.5 L383.6,414.0 L388.3,413.8 L392.0,414.3 L394.8,420.0 L397.6,428.4 L400.4,436.8 L403.3,444.3 L406.1,451.8 L408.9,458.4 L413.1,461.8 L418.7,461.8 L424.4,462.2 L428.1,461.8 L431.9,458.0 L435.6,450.5 L439.3,439.3 L443.1,426.2 L446.8,413.1 L450.6,401.8 L455.3,394.3 L460.0,387.8 L464.6,377.5 L469.3,368.1 L474.9,358.7 L480.6,350.0 L485.2,342.3 L489.9,333.9 L493.7,329.2 L497.4,328.9 L502.1,332.0 L505.9,330.2 L509.6,322.7 L514.3,312.4 L519.0,301.1 L523.7,288.0 L528.3,273.0 L533.0,258.0 L537.7,243.0 L542.4,229.0 L547.1,216.8 L550.8,209.3 L554.6,205.6 L560.2,204.6 L564.9,200.0 L570.5,192.5 L575.2,183.1 L579.9,172.8 L583.6,168.1 L587.4,167.2 L591.1,162.5 L594.8,161.0 L599.5,162.5 L603.3,168.1 L607.0,179.3 L610.8,192.5 L614.5,205.6 L618.3,217.8 L622.0,228.1 L625.8,235.6 L629.5,240.2 L632.3,240.6 L636.1,237.4 L638.6,230.5 L642.4,219.2 L646.1,206.1 L649.9,193.0 L652.7,186.4 L655.5,184.6 L659.3,186.4 L663.9,191.1 L668.6,198.6 L672.4,208.0 L676.1,219.2 L679.9,228.6 L683.6,238.0 L686.5,246.8 L689.3,256.2 L692.1,262.8 L694.9,265.6 L698.7,268.4 L702.4,272.1 L705.2,275.9 L709.0,276.4 L712.7,275.9 L716.5,277.8 L720.2,279.6 L723.0,278.7 L726.8,275.9 L729.6,277.8 L732.4,280.2 L736.2,284.3 L739.9,289.9 L742.7,297.4 L745.5,306.8 L748.3,316.2 L751.1,324.6 L753.0,333.0 L754.9,344.3 L757.7,355.5 L760.5,368.6 L763.7,389.4 L766.5,400.6 L769.3,411.9 L772.1,420.3 L774.9,430.6 L777.8,440.0 L780.6,446.5 L783.4,450.3 L785.8,451.2 L788.1,447.4 L790.9,440.0 L793.7,433.4 L797.4,425.0 L801.2,411.9 L802.7,401.4 L805.5,391.1 L808.3,383.6 L811.1,374.2 L812.8,360.0 L814.7,351.4 L817.5,337.4 L820.3,322.4 L823.1,309.3 L825.9,299.9 L828.7,291.5 L831.5,281.1 L834.3,272.7 L838.1,266.2 L841.8,259.6 L844.6,253.0 L847.4,243.7 L850.3,235.2 L853.1,230.6 L855.9,229.6 L859.6,231.5 L863.4,233.9 L867.1,233.4 L870.9,234.3 L874.6,237.1 L878.4,242.7 L882.1,251.2 L884.9,258.7 L887.7,268.0 L890.5,279.3 L893.3,286.8 L896.2,289.0" fill="none" stroke="#e8832e" stroke-width="1.2" stroke-linejoin="round"/>
<path d="M271.9,804.4 L290.5,795.4 L320.5,782.8 L355.6,769.3 L390.6,756.8 L425.7,746.3 L460.7,732.8 L500.8,716.2 L540.8,696.2 L590.9,670.2 L640.0,647.6 L655.0,639.1 L690.1,622.6 L740.2,600.1 L785.2,585.0 L810.3,574.0 L840.3,560.0 L849.9,556.1 L878.0,542.1 L896.3,533.6" fill="none" stroke="#2962ff" stroke-width="1.3" stroke-linejoin="round"/>
<path d="M68.9,595.8 L246.4,173.2 L409.5,544.1 L570.6,81.3 L769.7,496.0 L845.3,173.9 L1004.8,482.7" fill="none" stroke="#089981" stroke-width="1.3" stroke-linejoin="miter" stroke-miterlimit="10"/>
<path d="M71.6,589.3 L995.9,465.7" fill="none" stroke="#089981" stroke-width="1.5" stroke-dasharray="1.3 2.4"/>
<rect x="192.9" y="139.8" width="106.2" height="25.2" rx="4.5" fill="#089981"/>
<text x="197.79" y="156.8" font-size="15" fill="#fff" textLength="96.11" lengthAdjust="spacingAndGlyphs" stroke="#fff" stroke-width="0.35">Linke Schulter</text>
<rect x="550.0" y="49" width="40" height="25" rx="4.5" fill="#089981"/>
<text x="554.33" y="66" font-size="15" fill="#fff" textLength="30.06" lengthAdjust="spacingAndGlyphs" stroke="#fff" stroke-width="0.35">Kopf</text>
<rect x="787.0" y="141.8" width="116" height="25.1" rx="4.5" fill="#089981"/>
<text x="791.60" y="158.8" font-size="15" fill="#fff" textLength="106.69" lengthAdjust="spacingAndGlyphs" stroke="#fff" stroke-width="0.35">Rechte Schulter</text>
<line x1="-1" y1="282.5" x2="1139" y2="282.5" stroke="#26a69a" stroke-width="1" stroke-dasharray="1 2" shape-rendering="crispEdges"/>
<line x1="-3" y1="267.5" x2="1168" y2="267.5" stroke="#758696" stroke-width="1" stroke-dasharray="5 6" shape-rendering="crispEdges"/>
<rect x="53.24999999999999" y="1011.1" width="22.2" height="22.4" rx="2.6" fill="#fff" stroke="#363a45" stroke-width="2"/>
<text x="60.04" y="1028" font-size="15" font-weight="bold" fill="#363a45" textLength="8.12" lengthAdjust="spacingAndGlyphs">E</text>
<rect x="286.29999999999995" y="1011.1" width="22.2" height="22.4" rx="2.6" fill="#fff" stroke="#363a45" stroke-width="2"/>
<text x="293.09" y="1028" font-size="15" font-weight="bold" fill="#363a45" textLength="8.12" lengthAdjust="spacingAndGlyphs">E</text>
<rect x="542.4" y="1011.1" width="22.2" height="22.4" rx="2.6" fill="#fff" stroke="#363a45" stroke-width="2"/>
<text x="549.19" y="1028" font-size="15" font-weight="bold" fill="#363a45" textLength="8.12" lengthAdjust="spacingAndGlyphs">E</text>
<rect x="775.4" y="1011.1" width="22.2" height="22.4" rx="2.6" fill="#fff" stroke="#363a45" stroke-width="2"/>
<text x="782.19" y="1028" font-size="15" font-weight="bold" fill="#363a45" textLength="8.12" lengthAdjust="spacingAndGlyphs">E</text>
<rect x="1029.4" y="1011.1" width="22.2" height="22.4" rx="2.6" fill="#fff" stroke="#dd3ffa" stroke-width="2"/>
<text x="1036.19" y="1028" font-size="15" font-weight="bold" fill="#dd3ffa" textLength="8.12" lengthAdjust="spacingAndGlyphs">E</text>
<path d="M1141,272H1195V292.8H1141a2,2 0 0 1 -2,-2V274a2,2 0 0 1 2,-2z" fill="#26a69a"/>
<text x="1145.10" y="288.2" font-size="15" fill="#fff" textLength="42.23" lengthAdjust="spacingAndGlyphs">ALFEN</text>
</g>
<g shape-rendering="crispEdges">
<rect x="1196" y="0" width="1" height="1073" fill="#e1e2e6"/>
<rect x="0" y="1039" width="1281" height="1" fill="#e0e1e5"/>
<rect x="0" y="1073" width="1281" height="1" fill="#e0e3eb"/>
</g>
<text x="1209.60" y="1024.9" font-size="15" fill="#131722" textLength="28.33" lengthAdjust="spacingAndGlyphs">0.00</text>
<text x="1209.60" y="980.9" font-size="15" fill="#131722" textLength="28.33" lengthAdjust="spacingAndGlyphs">5.00</text>
<text x="1208.61" y="936.9" font-size="15" fill="#131722" textLength="37.23" lengthAdjust="spacingAndGlyphs">10.00</text>
<text x="1208.61" y="892.9" font-size="15" fill="#131722" textLength="37.23" lengthAdjust="spacingAndGlyphs">15.00</text>
<text x="1209.60" y="848.9" font-size="15" fill="#131722" textLength="36.23" lengthAdjust="spacingAndGlyphs">20.00</text>
<text x="1209.60" y="803.9" font-size="15" fill="#131722" textLength="36.23" lengthAdjust="spacingAndGlyphs">25.00</text>
<text x="1209.60" y="759.9" font-size="15" fill="#131722" textLength="36.23" lengthAdjust="spacingAndGlyphs">30.00</text>
<text x="1209.60" y="715.9" font-size="15" fill="#131722" textLength="36.23" lengthAdjust="spacingAndGlyphs">35.00</text>
<text x="1209.60" y="671.9" font-size="15" fill="#131722" textLength="36.23" lengthAdjust="spacingAndGlyphs">40.00</text>
<text x="1209.60" y="627.9" font-size="15" fill="#131722" textLength="36.23" lengthAdjust="spacingAndGlyphs">45.00</text>
<text x="1209.60" y="583.9" font-size="15" fill="#131722" textLength="36.23" lengthAdjust="spacingAndGlyphs">50.00</text>
<text x="1209.60" y="538.9" font-size="15" fill="#131722" textLength="36.23" lengthAdjust="spacingAndGlyphs">55.00</text>
<text x="1209.60" y="494.9" font-size="15" fill="#131722" textLength="36.23" lengthAdjust="spacingAndGlyphs">60.00</text>
<text x="1209.60" y="450.9" font-size="15" fill="#131722" textLength="36.23" lengthAdjust="spacingAndGlyphs">65.00</text>
<text x="1209.60" y="406.9" font-size="15" fill="#131722" textLength="36.23" lengthAdjust="spacingAndGlyphs">70.00</text>
<text x="1209.60" y="362.9" font-size="15" fill="#131722" textLength="36.23" lengthAdjust="spacingAndGlyphs">75.00</text>
<text x="1209.60" y="318.9" font-size="15" fill="#131722" textLength="36.23" lengthAdjust="spacingAndGlyphs">80.00</text>
<text x="1209.60" y="274.9" font-size="15" fill="#131722" textLength="36.23" lengthAdjust="spacingAndGlyphs">85.00</text>
<text x="1209.60" y="229.9" font-size="15" fill="#131722" textLength="36.23" lengthAdjust="spacingAndGlyphs">90.00</text>
<text x="1209.60" y="185.9" font-size="15" fill="#131722" textLength="36.23" lengthAdjust="spacingAndGlyphs">95.00</text>
<text x="1208.62" y="141.9" font-size="15" fill="#131722" textLength="45.12" lengthAdjust="spacingAndGlyphs">100.00</text>
<text x="1208.62" y="97.9" font-size="15" fill="#131722" textLength="45.12" lengthAdjust="spacingAndGlyphs">105.00</text>
<text x="1208.59" y="53.9" font-size="15" fill="#131722" textLength="45.15" lengthAdjust="spacingAndGlyphs">110.00</text>
<text x="1208.59" y="9.9" font-size="15" fill="#131722" textLength="45.15" lengthAdjust="spacingAndGlyphs">115.00</text>
<path d="M1196,251H1251.6a2,2 0 0 1 2,2V259H1196z" fill="#f23645"/>
<path d="M1196,272H1273a2,2 0 0 1 2,2V308.8a2,2 0 0 1 -2,2H1196z" fill="#26a69a"/>
<text x="1209.30" y="288.2" font-size="15" fill="#fff" textLength="36.23" lengthAdjust="spacingAndGlyphs">83.60</text>
<text x="1209.30" y="305.6" font-size="15" fill="#fff" textLength="57.84" lengthAdjust="spacingAndGlyphs" fill-opacity="0.8">07:10:14</text>
<path d="M1170.5,254H1195V281H1170.5a2.5,2.5 0 0 1 -2.5,-2.5V256.5a2.5,2.5 0 0 1 2.5,-2.5z" fill="#131722"/>
<path d="M1196,254H1251.1a2.5,2.5 0 0 1 2.5,2.5V278.5a2.5,2.5 0 0 1 -2.5,2.5H1196z" fill="#131722"/>
<circle cx="1181.6" cy="267.5" r="9.6" fill="none" stroke="#d1d4dc" stroke-width="1.2"/>
<path d="M1176.3,267.5h10.6M1181.6,262.2v10.6" stroke="#fff" stroke-width="1.3" fill="none"/>
<text x="1209.00" y="272.6" font-size="15" font-weight="bold" fill="#fff" textLength="36.73" lengthAdjust="spacingAndGlyphs">85.28</text>
<text x="102.00" y="1061.8" font-size="15" fill="#131722" textLength="22.21" lengthAdjust="spacingAndGlyphs">Okt</text>
<text x="219.70" y="1061.8" font-size="15" font-weight="bold" fill="#131722" textLength="33.75" lengthAdjust="spacingAndGlyphs">2021</text>
<text x="344.45" y="1061.8" font-size="15" fill="#131722" textLength="23.50" lengthAdjust="spacingAndGlyphs">Apr</text>
<text x="466.05" y="1061.8" font-size="15" fill="#131722" textLength="19.44" lengthAdjust="spacingAndGlyphs">Jul</text>
<text x="588.80" y="1061.8" font-size="15" fill="#131722" textLength="22.21" lengthAdjust="spacingAndGlyphs">Okt</text>
<text x="708.70" y="1061.8" font-size="15" font-weight="bold" fill="#131722" textLength="34.55" lengthAdjust="spacingAndGlyphs">2022</text>
<text x="835.55" y="1061.8" font-size="15" fill="#131722" textLength="23.50" lengthAdjust="spacingAndGlyphs">Apr</text>
<text x="956.45" y="1061.8" font-size="15" fill="#131722" textLength="19.44" lengthAdjust="spacingAndGlyphs">Jul</text>
<text x="1079.80" y="1061.8" font-size="15" fill="#131722" textLength="22.21" lengthAdjust="spacingAndGlyphs">Okt</text>
<g transform="translate(1238.5,1056.4)" stroke="#131722" fill="none" stroke-width="1.4" stroke-linecap="round"><circle r="5.8"/>
<line x1="6.20" y1="0.00" x2="9.00" y2="0.00"/>
<line x1="4.38" y1="4.38" x2="6.36" y2="6.36"/>
<line x1="0.00" y1="6.20" x2="0.00" y2="9.00"/>
<line x1="-4.38" y1="4.38" x2="-6.36" y2="6.36"/>
<line x1="-6.20" y1="0.00" x2="-9.00" y2="0.00"/>
<line x1="-4.38" y1="-4.38" x2="-6.36" y2="-6.36"/>
<line x1="-0.00" y1="-6.20" x2="-0.00" y2="-9.00"/>
<line x1="4.38" y1="-4.38" x2="6.36" y2="-6.36"/>
</g>
<text x="925.25" y="1103.4" font-size="16.3" fill="#131722" textLength="136.19" lengthAdjust="spacingAndGlyphs">11:14:46 (UTC+2)</text>
<text x="1103.00" y="1103.4" font-size="16.3" fill="#131722" textLength="35.15" lengthAdjust="spacingAndGlyphs">Anp.</text>
<text x="1157.00" y="1103.4" font-size="16.3" fill="#131722" textLength="16.54" lengthAdjust="spacingAndGlyphs">%</text>
<text x="1190.88" y="1103.4" font-size="16.3" fill="#131722" textLength="24.30" lengthAdjust="spacingAndGlyphs">log</text>
<text x="1232.80" y="1103.4" font-size="16.3" fill="#131722" textLength="34.76" lengthAdjust="spacingAndGlyphs">auto</text>
<rect x="1082" y="1084" width="1" height="28" fill="#e0e3eb" shape-rendering="crispEdges"/>
</svg>
</body></html>
